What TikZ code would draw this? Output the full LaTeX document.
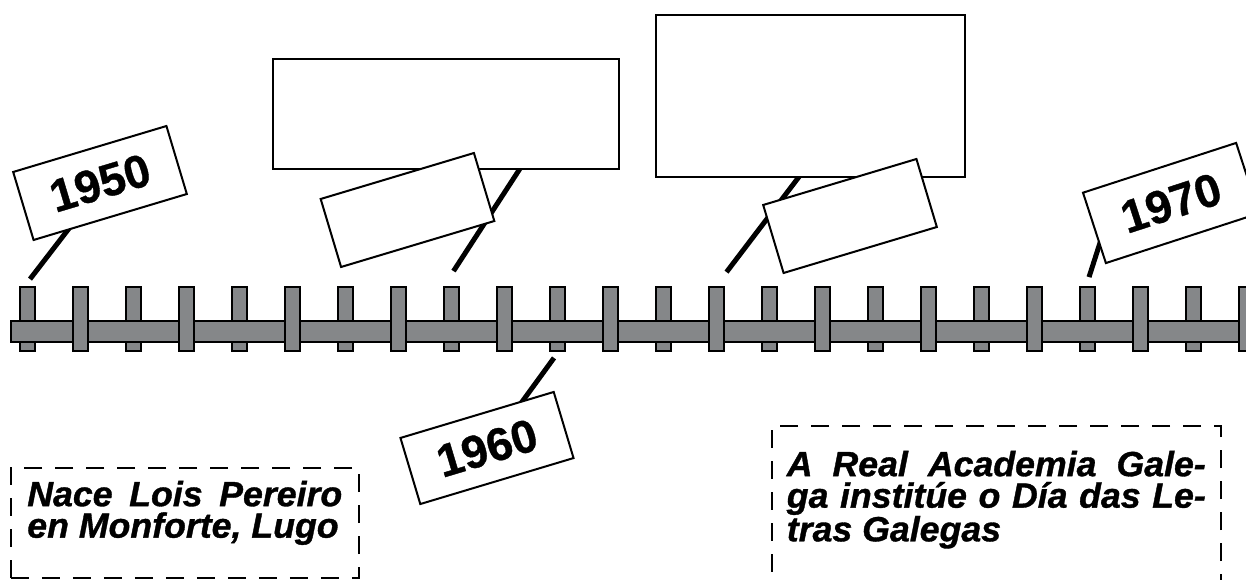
\documentclass[tikz,border=0pt]{standalone}
\usepackage{fontspec}
\setmainfont{Liberation Sans}
\newfontfamily\notefont{Liberation Sans Bold Italic}[FakeStretch=1.02, FakeBold=1]
\newfontfamily\yearfont{Liberation Sans Bold}[FakeBold=0.8]
\usepackage{tikz}
\usetikzlibrary{positioning, calc, backgrounds}
\definecolor{railgray}{RGB}{133,135,137}
\tikzstyle{notch} = [rectangle, draw, line width=1.8pt, fill=railgray, minimum width=15pt, minimum height=64pt, inner sep=0pt]
\tikzstyle{rail} = [rectangle, draw, line width=1.8pt, fill=railgray, minimum width=1259pt, minimum height=21pt, inner sep=0pt]
\tikzstyle{yearbox} = [rectangle, draw, line width=2pt, fill=white, minimum width=160pt, minimum height=71pt, inner sep=0pt, font=\yearfont\fontsize{46}{46}\selectfont]
\tikzstyle{blank} = [rectangle, draw, line width=2pt, fill=white, inner sep=0pt]
\tikzstyle{pointer} = [line width=5pt, shorten >=-4pt]
\tikzstyle{note} = [rectangle, draw, line width=1.6pt, dash pattern=on 18pt off 13pt, anchor=north west, align=justify, font=\notefont\fontsize{35}{31.5}\selectfont]

\begin{document}
\begin{tikzpicture}[x=1pt, y=1pt]
  \useasboundingbox (0,0) rectangle (1246,579);
  \clip (0,0) rectangle (1246,579);

  % eixo
  \foreach \i in {0,2,...,22}
    \node[notch] (t\i) at (27.5+53*\i, 260) {};
  \node[rail] (axis) at (640.5,247.5) {};
  \foreach \i in {1,3,...,23}
    \node[notch] (t\i) at (27.5+53*\i, 260) {};

  % caixas baleiras
  \node[blank, minimum width=346pt, minimum height=110pt] (bigA) at (446,465) {};
  \node[blank, minimum width=309pt, minimum height=162pt] (bigB) at (810.5,483) {};
  \node[yearbox, rotate=16.7] (smallA) at (407.5,369) {};
  \node[yearbox, rotate=16.7] (smallB) at (850,363) {};

  % anos
  \node[yearbox, rotate=16.7] (y1950) at (100,396) {1950};
  \node[yearbox, rotate=16.7, minimum height=69pt] (y1960) at (487,131) {1960};
  \node[yearbox, rotate=18, minimum width=161pt, minimum height=74pt] (y1970) at (1171,376) {1970};

  % indicadores
  \begin{scope}[on background layer]
    \draw[pointer] ([shift={(2.5pt,7pt)}]t0.north) -- ($(y1950.south west)!0.22!(y1950.south east)$);
    \draw[pointer] ([shift={(-3.5pt,-6pt)}]t10.south) -- ($(y1960.north west)!0.8!(y1960.north east)$);
    \draw[pointer] ([shift={(1.5pt,9pt)}]t20.north) -- ($(y1970.south west)!0.26!(y1970.north west)$);
    \draw[pointer] ([shift={(2pt,15pt)}]t8.north) -- ($(bigA.south west)!0.71!(bigA.south east)$);
    \draw[pointer] ([shift={(10pt,14pt)}]t13.north) -- ($(bigB.south west)!0.46!(bigB.south east)$);
  \end{scope}

  % notas
  \node[note, text width=315pt, inner xsep=16.5pt, inner ysep=13pt, text depth=59pt] (born) at (10,112)
    {Nace Lois Pereiro\linebreak en Monforte, Lugo};
  \node[note, text width=419pt, inner xsep=15pt, inner ysep=25pt, text depth=200pt] (rag) at (771,154)
    {A Real Academia Gale-\linebreak ga institúe o Día das Le-\linebreak tras Galegas};
\end{tikzpicture}
\end{document}
